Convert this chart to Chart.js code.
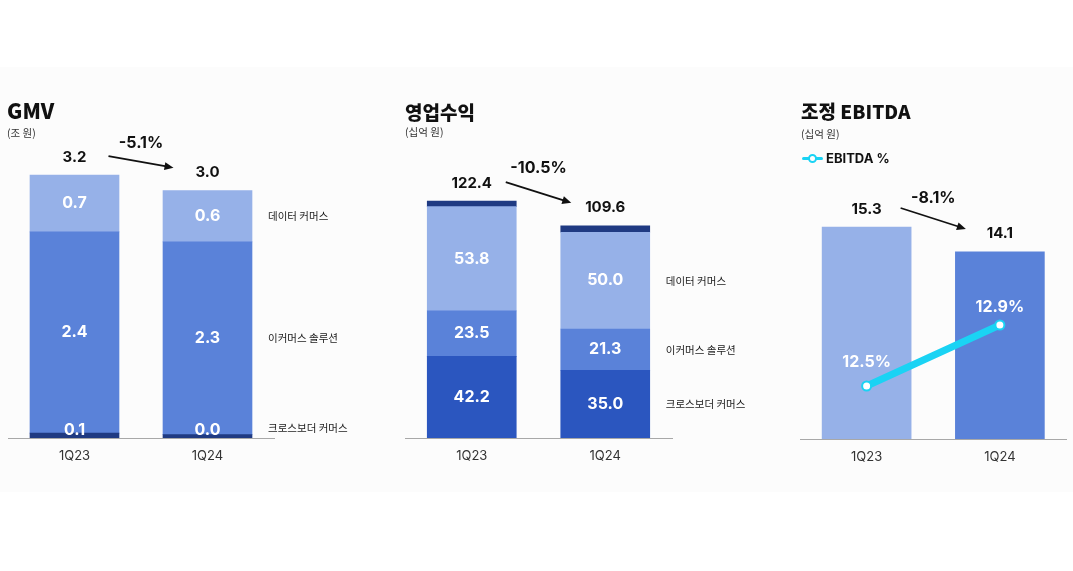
<!DOCTYPE html>
<html><head><meta charset="utf-8">
<script src="https://cdn.jsdelivr.net/npm/chart.js@4.4.1/dist/chart.umd.min.js"></script>
<style>
html,body{margin:0;padding:0;background:#fff;}
#wrap{position:relative;width:1073px;height:571px;overflow:hidden;}
#band{position:absolute;left:0;top:67px;width:1073px;height:425px;background:#fcfcfc;}
canvas{position:absolute;top:0;}
.t{position:absolute;font-family:"Noto Sans CJK KR",sans-serif;font-weight:900;color:#111;line-height:1;white-space:nowrap;}
.u{position:absolute;font-family:"Noto Sans CJK KR",sans-serif;font-size:10.5px;color:#333;line-height:1;white-space:nowrap;}
#lg{position:absolute;left:802px;top:151px;height:14px;width:120px;}
#lg .ln{position:absolute;left:0;top:6px;width:21px;height:3px;background:#1ad3f4;border-radius:2px;}
#lg .pt{position:absolute;left:6px;top:3px;width:5px;height:5px;border:2px solid #1ad3f4;background:#fff;border-radius:50%;}
#lg .tx{position:absolute;left:24px;top:0;font-family:Inter,sans-serif;font-weight:700;font-size:13px;line-height:14px;color:#111;white-space:nowrap;}
</style></head><body>
<div id="wrap">
<div id="band"></div>
<canvas id="c1" width="390" height="571" style="left:0"></canvas>
<canvas id="c2" width="390" height="571" style="left:390px"></canvas>
<canvas id="c3" width="293" height="571" style="left:780px"></canvas>
<div class="t" style="left:7px;top:100px;font-size:21px">GMV</div>
<div class="u" style="left:7px;top:128px">(조 원)</div>
<div class="t" style="left:405px;top:102px;font-size:19px">영업수익</div>
<div class="u" style="left:405px;top:127px">(십억 원)</div>
<div class="t" style="left:801px;top:101px;font-size:19px">조정 EBITDA</div>
<div class="u" style="left:801px;top:129px">(십억 원)</div>
<div id="lg"><div class="ln"></div><div class="pt"></div><div class="tx">EBITDA %</div></div>
</div>
<script>
// ---- data ----
const categories = ['1Q23', '1Q24'];
// GMV (조 원)
const gmvCrossBorder = [0.06, 0.04];
const gmvEcommerce = [2.44, 2.34];
const gmvDataCommerce = [0.69, 0.62];
// 영업수익 (십억 원)
const revCrossBorder = [42.2, 35.0];
const revEcommerce = [23.5, 21.3];
const revDataCommerce = [53.8, 50.0];
const revOther = [2.9, 3.3];
// 조정 EBITDA (십억 원) and margin %
const adjEbitda = [15.3, 14.1];
const ebitdaMargin = [12.5, 12.9];
const segmentNames = ['크로스보더 커머스', '이커머스 솔루션', '데이터 커머스'];
const changeLabels = ['-5.1%', '-10.5%', '-8.1%'];

// ---- styles ----
const NAVY = '#1f3a82', ROYAL = '#2b56bf', MID = '#5a82d9', LIGHT = '#96b1e8', CYAN = '#1ad3f4';
const NUM = 'Inter, "Noto Sans CJK KR", sans-serif';
const KR = '"Noto Sans CJK KR", sans-serif';

const annot = {
  id: 'annot',
  afterDatasetsDraw(chart, args, o) {
    const ctx = chart.ctx; ctx.save();
    const sets = chart.data.datasets.map((d, i) => ({ d, meta: chart.getDatasetMeta(i) })).filter(s => s.meta.type === 'bar');
    const n = chart.data.labels.length;
    const tops = [], cx = [], sums = [];
    for (let j = 0; j < n; j++) {
      let top = Infinity, sum = 0, x = 0;
      sets.forEach(s => { const el = s.meta.data[j]; top = Math.min(top, el.y); sum += s.d.data[j]; x = el.x; });
      tops.push(top); cx.push(x); sums.push(sum);
    }
    const bottom = chart.chartArea.bottom;
    ctx.textAlign = 'center'; ctx.textBaseline = 'middle';
    // inner labels
    ctx.fillStyle = '#fff'; ctx.font = 'bold 16px ' + NUM;
    (o.inner || []).forEach(di => {
      chart.getDatasetMeta(di).data.forEach((el, j) => {
        const h = el.base - el.y;
        const y = h < 20 ? el.base - 8 : (el.y + el.base) / 2;
        ctx.fillText(chart.data.datasets[di].data[j].toFixed(1), el.x, y);
      });
    });
    // point labels (line)
    if (o.points) {
      const meta = chart.getDatasetMeta(o.points.ds);
      meta.data.forEach((p, j) => {
        ctx.fillText(chart.data.datasets[o.points.ds].data[j].toFixed(1) + '%', p.x, p.y - o.points.dy[j]);
      });
    }
    // side labels
    ctx.textAlign = 'left'; ctx.fillStyle = '#1a1a1a'; ctx.font = '10.5px ' + KR;
    (o.side || []).forEach(s => {
      const el = chart.getDatasetMeta(s.ds).data[n - 1];
      const y = Math.min((el.y + el.base) / 2, bottom - 10);
      ctx.fillText(s.text, el.x + el.width / 2 + 16, y);
    });
    // totals
    ctx.textAlign = 'center'; ctx.fillStyle = '#111'; ctx.font = 'bold 15px ' + NUM;
    const ty = tops.map(t => t - 18);
    sums.forEach((s, j) => ctx.fillText(s.toFixed(1), cx[j], ty[j]));
    // change
    ctx.font = 'bold 16px ' + NUM;
    ctx.fillText(o.change, (cx[0] + cx[1]) / 2, ty[0] - o.changeDy);
    // arrow
    const sx = cx[0] + 34, sy = ty[0] - 1, ex = cx[1] - 34, ey = ty[1] - 5;
    const a = Math.atan2(ey - sy, ex - sx), hl = 9, hw = 4;
    ctx.strokeStyle = '#111'; ctx.lineWidth = 1.8;
    ctx.beginPath(); ctx.moveTo(sx, sy); ctx.lineTo(ex - hl * 0.8 * Math.cos(a), ey - hl * 0.8 * Math.sin(a)); ctx.stroke();
    ctx.beginPath(); ctx.moveTo(ex, ey);
    ctx.lineTo(ex - hl * Math.cos(a) + hw * Math.sin(a), ey - hl * Math.sin(a) - hw * Math.cos(a));
    ctx.lineTo(ex - hl * Math.cos(a) - hw * Math.sin(a), ey - hl * Math.sin(a) + hw * Math.cos(a));
    ctx.closePath(); ctx.fill();
    ctx.restore();
  }
};
Chart.register(annot);

function xAxis() {
  return {
    stacked: true,
    grid: { display: false, drawTicks: false },
    border: { display: true, color: '#a8a8a8', width: 1 },
    ticks: { color: '#333', font: { family: 'Inter', size: 13 }, padding: 10 },
    afterFit: s => { s.height = 40; }
  };
}
const common = (pad, extra) => Object.assign({
  responsive: false, animation: false, devicePixelRatio: 1,
  layout: { padding: pad },
  plugins: { legend: { display: false }, tooltip: { enabled: false } }
}, extra || {});

const bar = (label, data, color) => ({ type: 'bar', label, data, backgroundColor: color, borderWidth: 0, barThickness: 89, order: 1 });

// GMV
new Chart(document.getElementById('c1'), {
  type: 'bar',
  data: { labels: categories, datasets: [
    bar(segmentNames[0], gmvCrossBorder, NAVY),
    bar(segmentNames[1], gmvEcommerce, MID),
    bar(segmentNames[2], gmvDataCommerce, LIGHT)
  ]},
  options: (() => { const o = common({ left: 8, right: 116, top: 100, bottom: 93 });
    o.scales = { x: xAxis(), y: { stacked: true, display: false, min: 0, max: 4.10 } };
    o.plugins.annot = { inner: [0, 1, 2], side: [{ ds: 2, text: segmentNames[2] }, { ds: 1, text: segmentNames[1] }, { ds: 0, text: segmentNames[0] }], change: changeLabels[0], changeDy: 14 };
    return o; })()
});

// 영업수익
new Chart(document.getElementById('c2'), {
  type: 'bar',
  data: { labels: categories, datasets: [
    bar(segmentNames[0], revCrossBorder, ROYAL),
    bar(segmentNames[1], revEcommerce, MID),
    bar(segmentNames[2], revDataCommerce, LIGHT),
    bar('기타', revOther, NAVY)
  ]},
  options: (() => { const o = common({ left: 15, right: 108, top: 100, bottom: 93 });
    o.scales = { x: xAxis(), y: { stacked: true, display: false, min: 0, max: 174.6 } };
    o.plugins.annot = { inner: [0, 1, 2], side: [{ ds: 2, text: segmentNames[2] }, { ds: 1, text: segmentNames[1] }, { ds: 0, text: segmentNames[0] }], change: changeLabels[1], changeDy: 15 };
    return o; })()
});

// 조정 EBITDA
new Chart(document.getElementById('c3'), {
  type: 'bar',
  data: { labels: categories, datasets: [
    { type: 'line', label: 'EBITDA %', data: ebitdaMargin, yAxisID: 'y2', borderColor: CYAN, borderWidth: 7, borderCapStyle: 'round',
      pointRadius: 4.5, pointBorderWidth: 2, pointBackgroundColor: '#fff', pointBorderColor: CYAN, tension: 0, order: 0 },
    Object.assign(bar('조정 EBITDA', adjEbitda, [LIGHT, MID]), { yAxisID: 'y' })
  ]},
  options: (() => { const o = common({ left: 20, right: 5, top: 100, bottom: 92 });
    const x = xAxis(); x.stacked = false;
    o.scales = { x, y: { display: false, min: 5.1, max: 21.41 }, y2: { display: false, position: 'right', min: 12.1525, max: 14.3755 } };
    o.plugins.annot = { inner: [], points: { ds: 0, dy: [24, 18] }, change: changeLabels[2], changeDy: 11 };
    return o; })()
});
</script>
</body></html>
